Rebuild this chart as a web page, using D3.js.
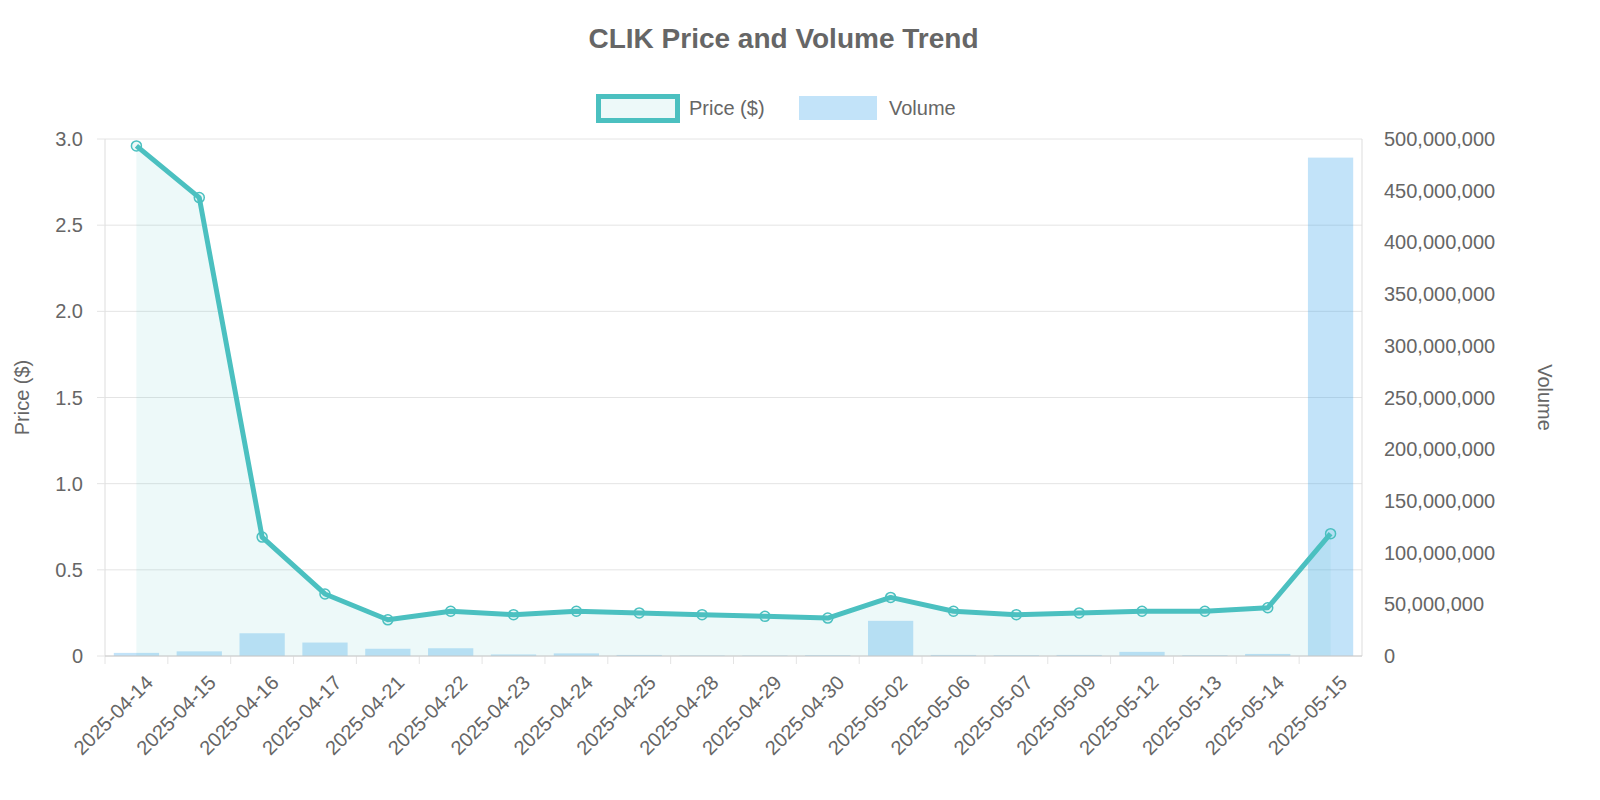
<!DOCTYPE html>
<html><head><meta charset="utf-8">
<script src="https://cdn.jsdelivr.net/npm/d3@7"></script>
<style>body{margin:0;background:#fff}text{font-family:"Liberation Sans",Arial,sans-serif}</style>
</head><body><svg id="c" width="1600" height="800"></svg>
<script>
const dates=["2025-04-14","2025-04-15","2025-04-16","2025-04-17","2025-04-21","2025-04-22","2025-04-23","2025-04-24","2025-04-25","2025-04-28","2025-04-29","2025-04-30","2025-05-02","2025-05-06","2025-05-07","2025-05-09","2025-05-12","2025-05-13","2025-05-14","2025-05-15"];
const prices=[2.96,2.66,0.69,0.36,0.21,0.26,0.24,0.26,0.25,0.24,0.23,0.22,0.34,0.26,0.24,0.25,0.26,0.26,0.28,0.71];
const volumes=[3e6,4.5e6,22e6,13e6,7e6,7.5e6,1.5e6,2.5e6,1e6,0.5e6,0.5e6,0.8e6,34e6,1e6,0.8e6,1e6,4e6,0.8e6,2e6,482e6];
const priceTicks=[0,0.5,1,1.5,2,2.5,3];
const volTicks=[0,5e7,1e8,1.5e8,2e8,2.5e8,3e8,3.5e8,4e8,4.5e8,5e8];

const svg=d3.select("#c");
const L=105,R=1362,T=139,B=656;
const x=d3.scaleBand().domain(dates).range([L,R]);
const yP=d3.scaleLinear().domain([0,3]).range([B,T]);
const yV=d3.scaleLinear().domain([0,5e8]).range([B,T]);
const grey="#666";

// grid
svg.append("g").selectAll("line").data(priceTicks).join("line")
 .attr("x1",L).attr("x2",R).attr("y1",d=>yP(d)).attr("y2",d=>yP(d))
 .attr("stroke","#e4e4e4").attr("stroke-width",1);
svg.append("g").selectAll("line").data(dates).join("line")
 .attr("x1",d=>x(d)).attr("x2",d=>x(d)).attr("y1",B).attr("y2",B+8).attr("stroke","#e4e4e4");
svg.append("line").attr("x1",L).attr("x2",L).attr("y1",T).attr("y2",B).attr("stroke","#ddd");
svg.append("line").attr("x1",R).attr("x2",R).attr("y1",T).attr("y2",B).attr("stroke","#ddd");

// bars
const bw=x.bandwidth()*0.72;
svg.append("g").selectAll("rect").data(volumes).join("rect")
 .attr("x",(d,i)=>x(dates[i])+(x.bandwidth()-bw)/2).attr("width",bw)
 .attr("y",d=>yV(d)).attr("height",d=>B-yV(d))
 .attr("fill","rgba(54,162,235,0.3)");

// area + line
const cx=(d,i)=>x(dates[i])+x.bandwidth()/2;
svg.append("path").datum(prices)
 .attr("d",d3.area().x(cx).y0(B).y1(d=>yP(d)))
 .attr("fill","rgba(75,192,192,0.1)");
svg.append("path").datum(prices)
 .attr("d",d3.line().x(cx).y(d=>yP(d)))
 .attr("fill","none").attr("stroke","#4bc0c0").attr("stroke-width",5).attr("stroke-linejoin","round");
svg.append("g").selectAll("circle").data(prices).join("circle")
 .attr("cx",cx).attr("cy",d=>yP(d)).attr("r",5)
 .attr("fill","rgba(75,192,192,0.1)").attr("stroke","#4bc0c0").attr("stroke-width",1.5);

// bottom axis line
svg.append("line").attr("x1",L).attr("x2",R).attr("y1",B).attr("y2",B).attr("stroke","#ccc");

// left ticks
svg.append("g").selectAll("text").data(priceTicks).join("text")
 .attr("x",L-22).attr("y",d=>yP(d)).attr("dy","0.35em").attr("text-anchor","end")
 .attr("font-size",20).attr("fill",grey).text(d=>d===0?"0":d.toFixed(1));
svg.append("g").selectAll("line").data(priceTicks).join("line")
 .attr("x1",L-8).attr("x2",L).attr("y1",d=>yP(d)).attr("y2",d=>yP(d)).attr("stroke","#e4e4e4");
// right ticks
svg.append("g").selectAll("text").data(volTicks).join("text")
 .attr("x",R+22).attr("y",d=>yV(d)).attr("dy","0.35em").attr("text-anchor","start")
 .attr("font-size",20).attr("fill",grey).text(d=>d3.format(",")(d));
// x labels
svg.append("g").selectAll("text").data(dates).join("text")
 .attr("transform",d=>`translate(${x(d)+x.bandwidth()/2+8},${B+18}) rotate(-45)`)
 .attr("text-anchor","end").attr("dy","0.7em").attr("font-size",20).attr("fill",grey).text(d=>d);

// axis titles
svg.append("text").attr("transform",`translate(29,${(T+B)/2}) rotate(-90)`).attr("text-anchor","middle")
 .attr("font-size",20).attr("fill",grey).text("Price ($)");
svg.append("text").attr("transform",`translate(1538,${(T+B)/2}) rotate(90)`).attr("text-anchor","middle")
 .attr("font-size",20).attr("fill",grey).text("Volume");

// title
svg.append("text").attr("x",(L+R)/2+50).attr("y",48).attr("text-anchor","middle")
 .attr("font-size",28).attr("font-weight","bold").attr("fill",grey).text("CLIK Price and Volume Trend");

// legend
svg.append("rect").attr("x",598.5).attr("y",96.5).attr("width",79).attr("height",24)
 .attr("fill","rgba(75,192,192,0.1)").attr("stroke","#4bc0c0").attr("stroke-width",5);
svg.append("text").attr("x",689).attr("y",108).attr("dy","0.35em").attr("font-size",20).attr("fill",grey).text("Price ($)");
svg.append("rect").attr("x",799).attr("y",96).attr("width",78).attr("height",24).attr("fill","rgba(54,162,235,0.3)");
svg.append("text").attr("x",889).attr("y",108).attr("dy","0.35em").attr("font-size",20).attr("fill",grey).text("Volume");
</script></body></html>
